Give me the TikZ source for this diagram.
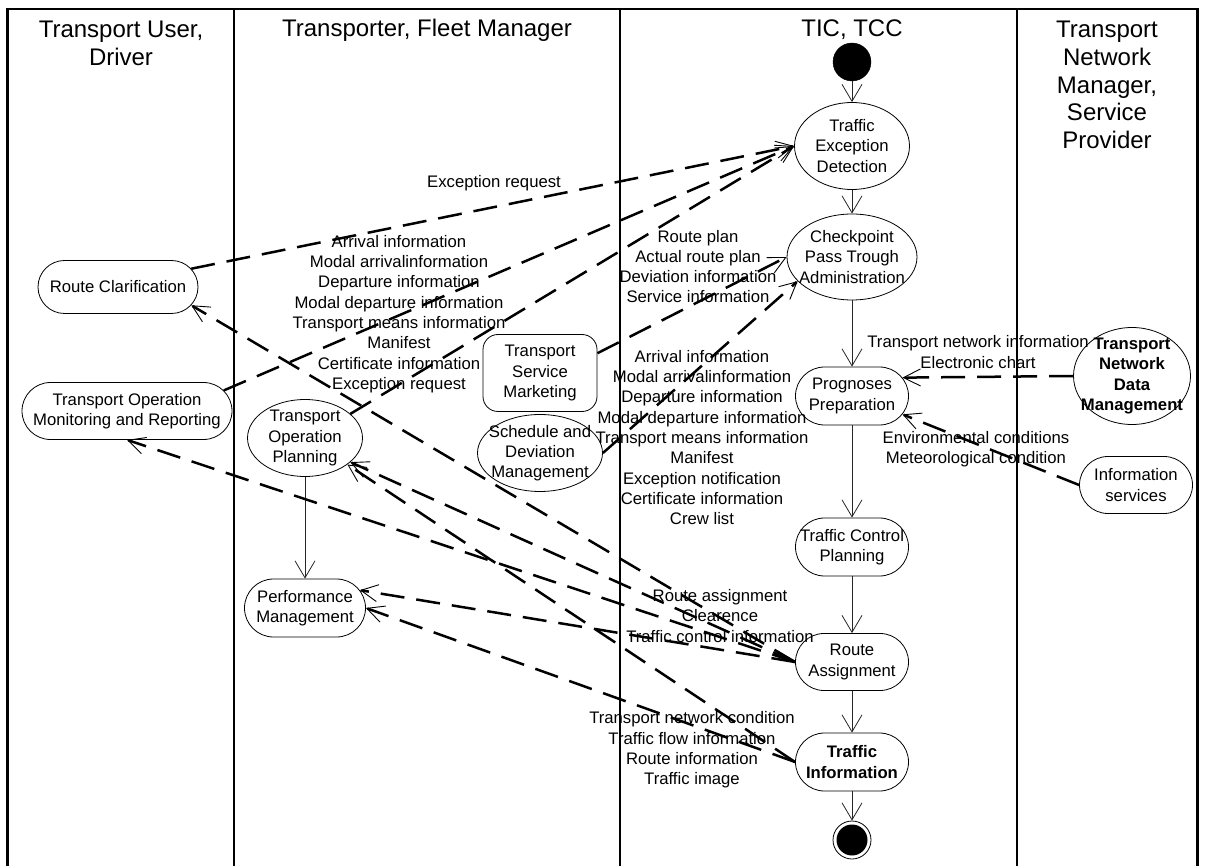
\documentclass[tikz,border=0pt]{standalone}
\usepackage{fontspec}
\setmainfont{Liberation Sans}
\usetikzlibrary{shapes.geometric,shapes.misc,arrows.meta}
\begin{document}
\begin{tikzpicture}[x=1pt,y=-1pt,
  lane/.style={line width=2.6pt},
  txt/.style={font=\fontsize{16.7}{20.3}\selectfont, align=center, inner sep=0pt},
  btxt/.style={txt, font=\fontsize{16.7}{20.3}\selectfont\bfseries},
  head/.style={font=\fontsize{24}{27.6}\selectfont, align=center, inner sep=0pt},
  stad/.style={rounded rectangle, draw, line width=0.8pt, inner sep=0pt},
  oval/.style={ellipse, draw, line width=0.8pt, inner sep=0pt},
  rbox/.style={rectangle, rounded corners=15pt, draw, line width=0.8pt, inner sep=0pt},
  flow/.style={line width=0.8pt, draw=black!85, -{Straight Barb[length=17pt,width=20pt]}},
  msg/.style={line width=2.5pt, dash pattern=on 24pt off 12pt,
    -{Straight Barb[length=17pt,width=17pt,line width=0.9pt]}},
]
\useasboundingbox (0,0) rectangle (1205,866);

% swimlane frame and separators
\draw[lane] (7.5,866) -- (7.5,9) -- (1197.5,9) -- (1197.5,866);
\foreach \x in {234,620,1017} \draw[lane] (\x,9) -- (\x,866);

% lane headers
\node[head] (h1) at (121,43.5) {Transport User,\\Driver};
\node[head] (h2) at (427,30) {Transporter, Fleet Manager};
\node[head] (h3) at (852,30) {TIC, TCC};
\node[head] (h4) at (1107,85) {Transport\\Network\\Manager,\\Service\\Provider};

% TIC, TCC activity flow
\node[circle, fill=black, draw, minimum size=38pt, inner sep=0pt] (start) at (852,62) {};
\node[oval, minimum width=115pt, minimum height=87pt,
  label={[txt]center:{Traffic\\Exception\\Detection}}] (ted) at (852,146) {};
\node[oval, minimum width=130pt, minimum height=86pt,
  label={[txt]center:{Checkpoint\\Pass Trough\\Administration}}] (cpta) at (852,257) {};
\node[stad, minimum width=113pt, minimum height=58pt,
  label={[txt]center:{Prognoses\\Preparation}}] (pp) at (852,396) {};
\node[stad, minimum width=113pt, minimum height=58pt,
  label={[txt]center:{Traffic Control\\Planning}}] (tcp) at (852,547) {};
\node[stad, minimum width=113pt, minimum height=57pt,
  label={[txt]center:{Route\\Assignment}}] (ra) at (852,662) {};
\node[stad, minimum width=113pt, minimum height=58pt,
  label={[btxt]center:{Traffic\\Information}}] (ti) at (852,762) {};
\node[circle, draw, line width=0.8pt, minimum size=38pt, inner sep=0pt] (end) at (852,840) {};
\fill (end.center) circle (15.5pt);

% transport user lane
\node[stad, minimum width=160pt, minimum height=53pt,
  label={[txt]center:Route Clarification}] (rc) at (118,287) {};
\node[stad, minimum width=210pt, minimum height=57pt,
  label={[txt]center:{Transport Operation\\Monitoring and Reporting}}] (tomr) at (127,411) {};

% transporter lane
\node[oval, minimum width=115pt, minimum height=77pt,
  label={[txt]center:{Transport\\Operation\\Planning}}] (top) at (305,438) {};
\node[stad, minimum width=121pt, minimum height=58pt,
  label={[txt]center:{Performance\\Management}}] (pm) at (305,608) {};
\node[rbox, minimum width=114pt, minimum height=77pt,
  label={[txt]center:{Transport\\Service\\Marketing}}] (tsm) at (540,373) {};
\node[oval, minimum width=125pt, minimum height=77pt,
  label={[txt]center:{Schedule and\\Deviation\\Management}}] (sdm) at (540,453) {};

% network manager lane
\node[oval, minimum width=117pt, minimum height=97pt,
  label={[btxt]center:{Transport\\Network\\Data\\Management}}] (tndm) at (1132,376) {};
\node[stad, minimum width=113pt, minimum height=57pt,
  label={[txt]center:{Information\\services}}] (is) at (1136,485) {};

% control flow
\draw[flow] (start) -- (ted);
\draw[flow] (ted) -- (cpta);
\draw[flow] (cpta) -- (pp);
\draw[flow] (pp) -- (tcp);
\draw[flow] (tcp) -- (ra);
\draw[flow] (ra) -- (ti);
\draw[flow] (ti) -- (end);
\draw[flow] (top) -- (pm);

% information flows
\draw[msg] (rc.14) -- (ted.west);
\draw[msg] (tomr.12) -- (ted.west);
\draw[msg] (top.28) -- (ted.west);
\draw[msg] (tsm.19) -- (cpta.west);
\draw[msg] (sdm.east) -- (cpta.204);
\draw[msg] (tndm.west) -- (pp.20);
\draw[msg] (is.west) -- (pp.-20);
\draw[msg] (ra.west) -- (rc.-14);
\draw[msg] (ra.west) -- (tomr.south);
\draw[msg] (ra.west) -- (top.-28);
\draw[msg] (ra.west) -- (pm.18);
\draw[msg] (ti.west) -- (top.-32);
\draw[msg] (ti.west) -- (pm.east);

% flow labels
\node[txt] (l1) at (494,183) {Exception request};
\node[txt] (l2) at (399,314) {Arrival information\\Modal arrivalinformation\\Departure information\\Modal departure information\\Transport means information\\Manifest\\Certificate information\\Exception request};
\node[txt] (l3) at (698,266.5) {Route plan\\Actual route plan\\Deviation information\\Service information};
\node[txt] (l4) at (702,437.5) {Arrival information\\Modal arrivalinformation\\Departure information\\Modal departure information\\Transport means information\\Manifest\\Exception notification\\Certificate information\\Crew list};
\node[txt] (l5) at (978,352) {Transport network information\\Electronic chart};
\node[txt] (l6) at (976,449.5) {Environmental conditions\\Meteorological condition};
\node[txt] (l7) at (720,616) {Route assignment\\Clearence\\Traffic control information};
\node[txt] (l8) at (692,750) {Transport network condition\\Traffic flow information\\Route information\\Traffic image};
\end{tikzpicture}
\end{document}
